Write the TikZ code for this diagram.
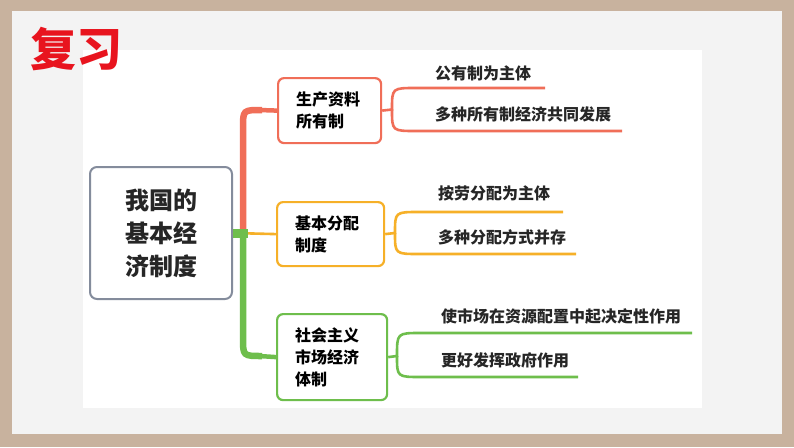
\documentclass[tikz,border=0pt]{standalone}
\usepackage{fontspec}
\newfontfamily\cjk{Noto Sans CJK SC}
\definecolor{frameC}{RGB}{200,178,158}
\definecolor{innerC}{RGB}{243,243,243}
\definecolor{redC}{RGB}{240,110,88}
\definecolor{orC}{RGB}{246,176,40}
\definecolor{grC}{RGB}{110,190,76}
\definecolor{grayC}{RGB}{132,140,156}
\definecolor{titleC}{RGB}{232,20,30}
\tikzset{
  topbox/.style={draw=#1, line width=2.2pt, rounded corners=6pt, fill=white, align=left,
     inner xsep=18pt, inner ysep=0pt, font=\cjk\bfseries\fontsize{16}{22}\selectfont, anchor=north west},
  leaf/.style={anchor=west, inner sep=0pt, font=\cjk\bfseries\fontsize{16}{20}\selectfont, text=black!85},
  sub/.style={draw=#1, line width=2.6pt},
}
\begin{document}
\begin{tikzpicture}[x=1pt,y=-1pt]
\useasboundingbox (0,0) rectangle (794,447);
\fill[frameC] (0,0) rectangle (794,447);
\fill[innerC] (12,11) rectangle (782,434);
\fill[white] (83,50) rectangle (702,408);
\node[font=\cjk\bfseries\fontsize{46}{46}\selectfont, text=titleC, inner sep=0pt] (title) at (76,49) {复习};

% center
\node[draw=grayC, line width=2pt, rounded corners=7pt, fill=white, minimum width=142pt, minimum height=132pt,
  align=center, inner sep=0pt, font=\cjk\bfseries\fontsize{24}{33}\selectfont, text=black!85] (center) at (161,233)
  {我国的\\基本经\\济制度};

% main boxes
\node[topbox=redC, text width=67pt, minimum height=65pt] (b1) at (277,77) {生产资料\\所有制};
\node[topbox=orC, text width=71pt, minimum height=64pt] (b2) at (276,201) {基本分配\\制度};
\node[topbox=grC, text width=74pt, minimum height=86pt] (b3) at (276,313) {社会主义\\市场经济\\体制};

% trunk
\coordinate (r1) at (262,110);
\coordinate (g1) at (262,356);
\draw[redC, line width=6.5pt] (243,234) -- (243,128) .. controls (243,110) .. (r1);
\draw[redC, line width=4.5pt] (259,110) -- (b1.west);
\draw[grC, line width=6.5pt] (243,232) -- (243,338) .. controls (243,356) .. (g1);
\draw[grC, line width=4.5pt] (259,356) -- (b3.west);
\draw[orC, line width=2.6pt] (center.east) -- (b2.west);
\coordinate (stubEnd) at (248,233);
\draw[grC, line width=9pt] (center.east) -- (stubEnd);

% branch 1
\coordinate (s1) at (392,109.5);
\coordinate (u1) at (545,88);
\coordinate (l1) at (622,131);
\draw[sub=redC] (b1.east) -- (s1) .. controls (392,88) .. (416,88) -- (u1);
\draw[sub=redC] (s1) .. controls (392,131) .. (416,131) -- (l1);
\node[leaf] (t11) at (435,73) {公有制为主体};
\node[leaf] (t12) at (435,114) {多种所有制经济共同发展};

% branch 2
\coordinate (s2) at (395,233);
\coordinate (u2) at (563,212);
\coordinate (l2) at (576,254);
\draw[sub=orC] (b2.east) -- (s2) .. controls (395,212) .. (419,212) -- (u2);
\draw[sub=orC] (s2) .. controls (395,254) .. (419,254) -- (l2);
\node[leaf] (t21) at (438,193) {按劳分配为主体};
\node[leaf] (t22) at (438,237) {多种分配方式并存};

% branch 3
\coordinate (s3) at (397,356);
\coordinate (u3) at (692,333);
\coordinate (l3) at (578,377);
\draw[sub=grC] (b3.east) -- (s3) .. controls (397,333) .. (421,333) -- (u3);
\draw[sub=grC] (s3) .. controls (397,377) .. (421,377) -- (l3);
\node[leaf] (t31) at (441,316) {使市场在资源配置中起决定性作用};
\node[leaf] (t32) at (441,360) {更好发挥政府作用};
\end{tikzpicture}
\end{document}
